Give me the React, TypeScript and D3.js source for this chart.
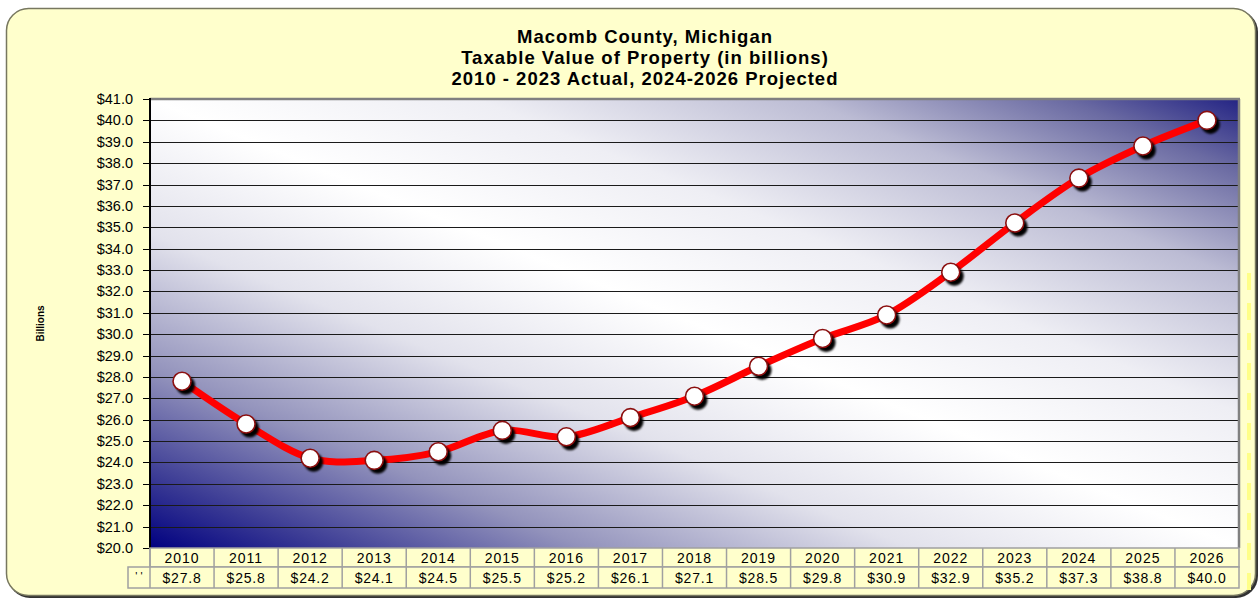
import React from "react";
import * as d3 from "d3";

const years = ["2010","2011","2012","2013","2014","2015","2016","2017","2018","2019","2020","2021","2022","2023","2024","2025","2026"];
const values = [27.8, 25.8, 24.2, 24.1, 24.5, 25.5, 25.2, 26.1, 27.1, 28.5, 29.8, 30.9, 32.9, 35.2, 37.3, 38.8, 40.0];
const yTicks = d3.range(20, 42, 1);
const titleLines = [
  "Macomb County, Michigan",
  "Taxable Value of Property (in billions)",
  "2010 - 2023 Actual, 2024-2026 Projected",
];
const yAxisTitle = "Billions";
const seriesLabel = "' '";

const FONT = "'Liberation Sans', Arial, Helvetica, sans-serif";

export default function App() {
  const W = 1260, H = 600;
  const left = 150, right = 1239, top = 99, bottom = 548;
  const row1 = 567, row2 = 588;
  const x = d3.scaleBand().domain(years).range([left, right]).padding(0);
  const y = d3.scaleLinear().domain([20, 41]).range([bottom, top]);
  const cx = (yr: string) => (x(yr) as number) + x.bandwidth() / 2;
  const line = d3
    .line<number>()
    .x((_, i) => cx(years[i]))
    .y((v) => y(v))
    .curve(d3.curveCardinal.tension(0));
  const dashes = d3.range(273, 580, 30);

  return (
    <svg width={W} height={H} style={{ position: "absolute", left: 0, top: 0 }} fontFamily={FONT}>
      <defs>
        <linearGradient id="bg" x1="0" y1="1" x2="1" y2="0">
          <stop offset="0" stopColor="#000080" />
          <stop offset="0.08" stopColor="#3a3a94" />
          <stop offset="0.2" stopColor="#9393bc" />
          <stop offset="0.35" stopColor="#e2e2ec" />
          <stop offset="0.5" stopColor="#ffffff" />
          <stop offset="0.65" stopColor="#eeeef4" />
          <stop offset="0.8" stopColor="#bcbcd4" />
          <stop offset="0.92" stopColor="#6a6aa2" />
          <stop offset="1" stopColor="#242484" />
        </linearGradient>
        <filter id="blur" x="-50%" y="-50%" width="200%" height="200%">
          <feGaussianBlur stdDeviation="0.8" />
        </filter>
      </defs>
      {/* panel */}
      <rect x={8} y={10} width={1250} height={588} rx={22} fill="#333" />
      <rect x={6.5} y={8.5} width={1249} height={587} rx={22} fill="#FFFFCC" stroke="#77775f" strokeWidth={1.5} />
      {dashes.map((d) => (
        <rect key={d} x={1247} y={d} width={4} height={17} fill="#FFFF88" />
      ))}
      {/* titles */}
      {titleLines.map((t, i) => (
        <text key={i} x={645} y={43 + i * 21} textAnchor="middle" fontSize={18.5} fontWeight="bold" fill="#000" letterSpacing={1}>
          {t}
        </text>
      ))}
      <text
        transform={`translate(44,${(top + bottom) / 2}) rotate(-90)`}
        textAnchor="middle"
        fontSize={10}
        fontWeight="bold"
      >
        {yAxisTitle}
      </text>
      {/* plot area */}
      <rect x={left} y={top} width={right - left} height={bottom - top} fill="url(#bg)" />
      {yTicks.map((t) => (
        <g key={t}>
          <line x1={left} x2={right} y1={Math.round(y(t)) + 0.5} y2={Math.round(y(t)) + 0.5} stroke="#1a1a1a" strokeWidth={1} />
          <line x1={143} x2={left} y1={Math.round(y(t)) + 0.5} y2={Math.round(y(t)) + 0.5} stroke="#000" strokeWidth={1} />
          <text x={133} y={y(t) + 5} textAnchor="end" fontSize={14.5} fill="#000">
            {"$" + t.toFixed(1)}
          </text>
        </g>
      ))}
      <line x1={left} x2={right + 1} y1={top} y2={top} stroke="#808080" strokeWidth={2.5} />
      <line x1={right} x2={right} y1={top} y2={bottom} stroke="#808080" strokeWidth={2.5} />
      <line x1={left} x2={left} y1={top - 1} y2={bottom} stroke="#000" strokeWidth={2} />
      {/* series */}
      <path d={line(values) || ""} fill="none" stroke="#ff0000" strokeWidth={7} strokeLinejoin="round" strokeLinecap="round" />
      {values.map((v, i) => (
        <circle key={"s" + i} cx={cx(years[i]) + 3.5} cy={y(v) + 4} r={9.5} fill="#000" filter="url(#blur)" />
      ))}
      {values.map((v, i) => (
        <circle key={"m" + i} cx={cx(years[i])} cy={y(v)} r={9} fill="#fff" stroke="#8b0f0f" strokeWidth={1.6} />
      ))}
      {/* data table */}
      <rect x={left} y={bottom} width={right - left} height={row1 - bottom} fill="#FFFFCC" stroke="#a0a0a0" strokeWidth={1.5} />
      <rect x={128} y={row1} width={right - 128} height={row2 - row1} fill="#FFFFCC" stroke="#a0a0a0" strokeWidth={1.5} />
      {years.map((yr, i) => (
        <g key={yr}>
          <line x1={x(yr) as number} x2={x(yr) as number} y1={bottom} y2={row2} stroke="#a0a0a0" strokeWidth={1.5} />
          <text x={cx(yr)} y={bottom + 15} textAnchor="middle" fontSize={14} fill="#000" letterSpacing={1}>
            {yr}
          </text>
          <text x={cx(yr)} y={row1 + 16} textAnchor="middle" fontSize={14} fill="#000" letterSpacing={0.8}>
            {"$" + values[i].toFixed(1)}
          </text>
        </g>
      ))}
      <text x={139} y={row1 + 13} textAnchor="middle" fontSize={11} fill="#000">
        {seriesLabel}
      </text>
    </svg>
  );
}
